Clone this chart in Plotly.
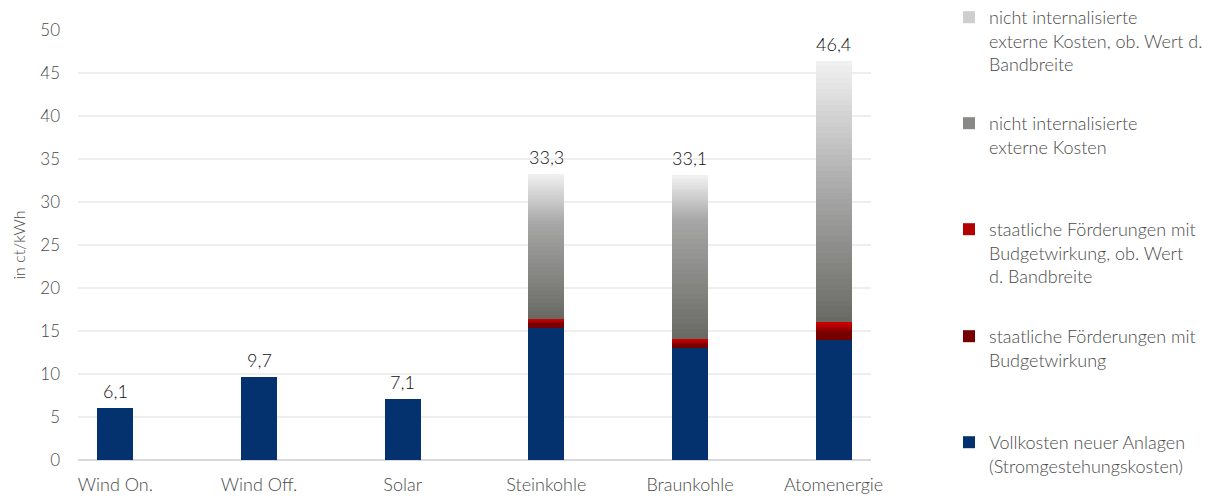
import plotly.graph_objects as go

# ---------------- data ----------------
categories = ["Wind On.", "Wind Off.", "Solar", "Steinkohle", "Braunkohle", "Atomenergie"]
vollkosten = [6.1, 9.7, 7.1, 15.4, 13.0, 14.0]          # Vollkosten neuer Anlagen
foerderungen = [0, 0, 0, 0.55, 0.55, 1.1]               # staatliche Förderungen mit Budgetwirkung
foerderungen_ob = [0, 0, 0, 0.45, 0.5, 0.9]             # ... ob. Wert d. Bandbreite
externe = [0, 0, 0, 11.1, 13.95, 15.0]                  # nicht internalisierte externe Kosten
externe_ob = [0, 0, 0, 5.8, 5.1, 15.4]                  # ... ob. Wert d. Bandbreite
totals = [6.1, 9.7, 7.1, 33.3, 33.1, 46.4]
y_ticks = [0, 5, 10, 15, 20, 25, 30, 35, 40, 45, 50]

legend_labels = {
    "externe_ob": "nicht internalisierte<br>externe Kosten, ob. Wert d.<br>Bandbreite",
    "externe": "nicht internalisierte<br>externe Kosten",
    "foerderungen_ob": "staatliche Förderungen mit<br>Budgetwirkung, ob. Wert<br>d. Bandbreite",
    "foerderungen": "staatliche Förderungen mit<br>Budgetwirkung",
    "vollkosten": "Vollkosten neuer Anlagen<br>(Stromgestehungskosten)",
}

# ---------------- style ----------------
FONT = "Lato"
TXT = "#4a4a4a"
WEIGHT = 300
BAR_W = 0.25
W, H = 1215, 496
ML, MR, MT, MB = 78, 344, 30, 36
PH = H - MT - MB
PW = W - ML - MR


def hex2rgb(h):
    h = h.lstrip("#")
    return tuple(int(h[i:i + 2], 16) for i in (0, 2, 4))


def mix(c1, c2, t):
    a, b = hex2rgb(c1), hex2rgb(c2)
    return "rgb(%d,%d,%d)" % tuple(round(a[i] + (b[i] - a[i]) * t) for i in range(3))


fig = go.Figure()


def px_to_paper_y(px):
    return (H - MB - px) / PH


legend_top_px = {"externe_ob": -1, "externe": 105, "foerderungen_ob": 211,
                 "foerderungen": 318, "vollkosten": 424}
legend_ids = {"vollkosten": "legend5", "foerderungen": "legend4", "foerderungen_ob": "legend3",
              "externe": "legend2", "externe_ob": "legend"}


def add_solid(key, values, color):
    fig.add_trace(go.Bar(
        x=categories, y=values, name=legend_labels[key], width=BAR_W,
        marker=dict(color=color, line=dict(width=0)),
        legend=legend_ids[key], showlegend=True, hoverinfo="skip"))


def add_gradient(key, values, c_bottom, c_top, n):
    for i in range(n):
        t = (i + 0.5) / n
        fig.add_trace(go.Bar(
            x=categories, y=[v / n for v in values], name=legend_labels[key], width=BAR_W,
            marker=dict(color=mix(c_bottom, c_top, t), line=dict(width=0)),
            legend=legend_ids[key], showlegend=(i == n // 2), hoverinfo="skip"))


add_solid("vollkosten", vollkosten, "#04326e")
add_solid("foerderungen", foerderungen, "#760000")
add_gradient("foerderungen_ob", foerderungen_ob, "#8a0000", "#d00000", 6)
add_gradient("externe", externe, "#696964", "#a7a7a7", 24)
add_gradient("externe_ob", externe_ob, "#a7a7a7", "#f2f2f2", 24)

# data labels (totals)
for c, v in zip(categories, totals):
    fig.add_annotation(x=c, y=v, text=f"{v:.1f}".replace(".", ","), showarrow=False,
                       yanchor="bottom", yshift=4,
                       font=dict(family=FONT, size=18, color="#111111", weight=WEIGHT))

layout_legends = {}
for key, lid in legend_ids.items():
    layout_legends[lid] = dict(
        x=(949 - ML) / PW, xanchor="left",
        y=px_to_paper_y(legend_top_px[key]), yanchor="top",
        bgcolor="rgba(0,0,0,0)", borderwidth=0, valign="top",
        font=dict(family=FONT, size=18, color=TXT, weight=WEIGHT),
    )

fig.update_layout(
    width=W, height=H,
    margin=dict(l=ML, r=MR, t=MT, b=MB, autoexpand=False),
    barmode="stack", bargap=0,
    paper_bgcolor="white", plot_bgcolor="white",
    font=dict(family=FONT, size=17, color=TXT, weight=WEIGHT),
    **layout_legends,
)

fig.update_xaxes(
    type="category", categoryorder="array", categoryarray=categories,
    range=[-0.26, len(categories) - 1 + 0.26],
    showgrid=False, showline=False, zeroline=False, ticks="",
    ticklabelstandoff=12,
    tickfont=dict(family=FONT, size=18, color=TXT, weight=WEIGHT),
)

fig.update_yaxes(
    range=[0, 50], tickvals=y_ticks, ticktext=[str(t) for t in y_ticks],
    showgrid=True, gridcolor="#eeeeee", gridwidth=1.5,
    zeroline=True, zerolinecolor="#d9d9d9", zerolinewidth=2,
    showline=False, ticks="", ticklabelstandoff=17,
    tickfont=dict(family=FONT, size=17, color=TXT, weight=WEIGHT),
    title=dict(text="in ct/kWh", font=dict(family=FONT, size=16, color=TXT, weight=WEIGHT),
               standoff=10),
)

fig.write_html("out.html", config={"displayModeBar": False},
               post_script="document.body.style.margin='0';")
